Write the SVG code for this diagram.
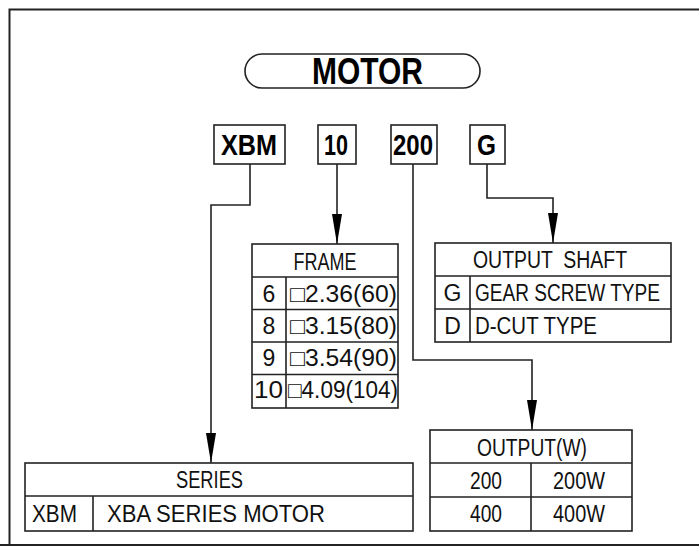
<svg xmlns="http://www.w3.org/2000/svg" width="699" height="546" viewBox="0 0 699 546">
<defs>
<style>
.ln{fill:none;stroke:#222;stroke-width:1.6}
.bx{fill:#fff;stroke:#222;stroke-width:1.6}
.t{font-family:"Liberation Sans",Arial,sans-serif;font-size:23px;fill:#111}
.b{font-family:"Liberation Sans",Arial,sans-serif;font-weight:bold;fill:#000}
.m{text-anchor:middle}
</style>
<marker id="arr" viewBox="0 0 30 10" refX="30" refY="5" markerWidth="30" markerHeight="10" markerUnits="userSpaceOnUse" orient="auto">
<path d="M0,0 L30,5 L0,10 Z" fill="#000"/>
</marker>
</defs>
<rect width="699" height="546" fill="#fff"/>
<path d="M9.5,546 V9.5 H699 M0,545 H699" fill="none" stroke="#222" stroke-width="2"/>

<g id="title">
<rect x="245" y="54" width="235" height="34" rx="17" class="bx"/>
<text x="312" y="84" class="b" font-size="36" textLength="111" lengthAdjust="spacingAndGlyphs">MOTOR</text>
</g>

<g id="code-xbm">
<rect x="214" y="125" width="71" height="39" class="bx"/>
<text x="221" y="155" class="b" font-size="30" textLength="56" lengthAdjust="spacingAndGlyphs">XBM</text>
</g>
<g id="code-10">
<rect x="318" y="125" width="38" height="39" class="bx"/>
<text x="324" y="155" class="b" font-size="30" textLength="24" lengthAdjust="spacingAndGlyphs">10</text>
</g>
<g id="code-200">
<rect x="391" y="125" width="46" height="39" class="bx"/>
<text x="393" y="155" class="b" font-size="30" textLength="40" lengthAdjust="spacingAndGlyphs">200</text>
</g>
<g id="code-g">
<rect x="470" y="125" width="35" height="39" class="bx"/>
<text x="477" y="155" class="b" font-size="30" textLength="19" lengthAdjust="spacingAndGlyphs">G</text>
</g>

<g id="connectors">
<path class="ln" d="M250,164 V205 H211 V463" marker-end="url(#arr)"/>
<path class="ln" d="M337,164 V244" marker-end="url(#arr)"/>
<path class="ln" d="M413,164 V360 H532 V430" marker-end="url(#arr)"/>
<path class="ln" d="M487,164 V198 H553 V243" marker-end="url(#arr)"/>
</g>

<g id="frame-table">
<rect x="252" y="244" width="146" height="164" class="bx"/>
<path class="ln" d="M252,277 H398 M252,309.5 H398 M252,342 H398 M252,374.5 H398 M286,277 V408"/>
<text x="325" y="270" class="t m" textLength="63" lengthAdjust="spacingAndGlyphs">FRAME</text>
<text x="269" y="302" class="t m">6</text>
<text x="290" y="302" class="t" textLength="107" lengthAdjust="spacingAndGlyphs">□2.36(60)</text>
<text x="269" y="334" class="t m">8</text>
<text x="290" y="334" class="t" textLength="107" lengthAdjust="spacingAndGlyphs">□3.15(80)</text>
<text x="269" y="366" class="t m">9</text>
<text x="290" y="366" class="t" textLength="107" lengthAdjust="spacingAndGlyphs">□3.54(90)</text>
<text x="254" y="398" class="t" textLength="29" lengthAdjust="spacingAndGlyphs">10</text>
<text x="288" y="398" class="t" textLength="110" lengthAdjust="spacingAndGlyphs">□4.09(104)</text>
</g>

<g id="shaft-table">
<rect x="435" y="243" width="236" height="99" class="bx"/>
<path class="ln" d="M435,276 H671 M435,309 H671 M470,276 V342"/>
<text x="473" y="268" class="t" textLength="154" lengthAdjust="spacingAndGlyphs" xml:space="preserve">OUTPUT  SHAFT</text>
<text x="452.5" y="301" class="t m">G</text>
<text x="475" y="301" class="t" textLength="185" lengthAdjust="spacingAndGlyphs">GEAR SCREW TYPE</text>
<text x="452.5" y="334" class="t m">D</text>
<text x="475" y="334" class="t" textLength="122" lengthAdjust="spacingAndGlyphs">D-CUT TYPE</text>
</g>

<g id="series-table">
<rect x="25" y="463" width="388" height="68" class="bx"/>
<path class="ln" d="M25,496 H413 M93,496 V531"/>
<text x="176" y="488" class="t" textLength="67" lengthAdjust="spacingAndGlyphs">SERIES</text>
<text x="32" y="522" class="t" textLength="45" lengthAdjust="spacingAndGlyphs">XBM</text>
<text x="107" y="522" class="t" textLength="218" lengthAdjust="spacingAndGlyphs">XBA SERIES MOTOR</text>
</g>

<g id="output-table">
<rect x="430" y="430" width="202" height="101" class="bx"/>
<path class="ln" d="M430,463 H632 M430,497 H632 M531,463 V531"/>
<text x="532" y="456" class="t m" textLength="110" lengthAdjust="spacingAndGlyphs">OUTPUT(W)</text>
<text x="486" y="489" class="t m" textLength="32" lengthAdjust="spacingAndGlyphs">200</text>
<text x="579" y="489" class="t m" textLength="52" lengthAdjust="spacingAndGlyphs">200W</text>
<text x="486" y="522" class="t m" textLength="32" lengthAdjust="spacingAndGlyphs">400</text>
<text x="579" y="522" class="t m" textLength="52" lengthAdjust="spacingAndGlyphs">400W</text>
</g>
</svg>
